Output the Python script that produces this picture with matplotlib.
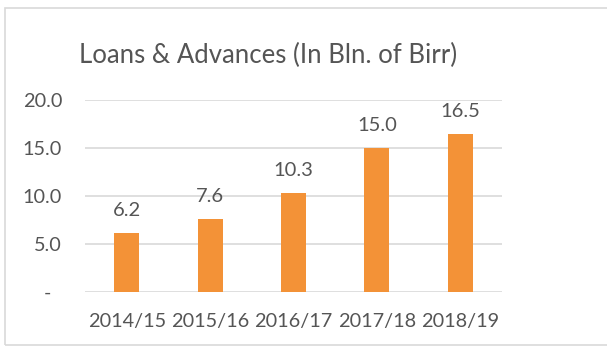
import matplotlib.pyplot as plt
from matplotlib.patches import Rectangle

# Loans & advances per fiscal year, billions of Birr
years = ["2014/15", "2015/16", "2016/17", "2017/18", "2018/19"]
loans = [6.2, 7.6, 10.3, 15.0, 16.5]
yticks = [0, 5, 10, 15, 20]
ytick_labels = ["-  ", "5.0", "10.0", "15.0", "20.0"]

bar_color = "#F39237"
text_color = "#555555"
grid_color = "#D9D9D9"

plt.rcParams["font.family"] = ["Lato", "DejaVu Sans"]

fig = plt.figure(figsize=(6.07, 3.49), dpi=100)
ax = fig.add_axes([0.140, 0.163, 0.687, 0.550])

x = range(len(years))
bars = ax.bar(x, loans, width=0.3, color=bar_color, zorder=3)

for xi, v in zip(x, loans):
    ax.annotate(f"{v:.1f}", (xi, v), xytext=(0, 10), textcoords="offset points",
                ha="center", va="bottom", fontsize=14.5, color=text_color)

ax.set_xlim(-0.5, len(years) - 0.5)
ax.set_ylim(0, 20)
ax.set_yticks(yticks)
ax.set_yticklabels(ytick_labels)
ax.set_xticks(list(x))
ax.set_xticklabels(years)
ax.tick_params(axis="both", length=0, labelsize=14.3, labelcolor=text_color)
ax.tick_params(axis="y", pad=16.5)
ax.tick_params(axis="x", pad=15)

ax.yaxis.grid(True, color=grid_color, linewidth=1.2, zorder=0)
for s in ax.spines.values():
    s.set_visible(False)

fig.text(0.442, 0.842, "Loans & Advances (In Bln. of Birr)", ha="center", va="center",
         fontsize=18.5, color=text_color)

# chart frame
fig.patches.append(Rectangle((5 / 607, 4 / 349), 1.2, 1 - 12 / 349,
                             transform=fig.transFigure, fill=False,
                             edgecolor=grid_color, linewidth=1.2))

fig.savefig("out.png", dpi=100)
